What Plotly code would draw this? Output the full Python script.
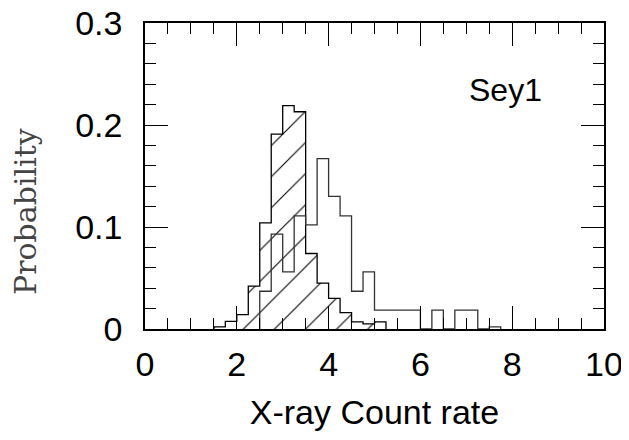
import plotly.graph_objects as go

# Bin edges (width 0.25) and probabilities
bin_width = 0.25

hatched_left = [1.5, 1.75, 2.0, 2.25, 2.5, 2.75, 3.0, 3.25, 3.5, 3.75, 4.0, 4.25, 4.5, 4.75, 5.0]
hatched_vals = [0.002, 0.0075, 0.014, 0.042, 0.104, 0.191, 0.219, 0.213, 0.074, 0.045, 0.030, 0.016, 0.007, 0.005, 0.007]

open_left = [2.5, 2.75, 3.0, 3.25, 3.5, 3.75, 4.0, 4.25, 4.5, 4.75, 5.0, 5.25, 5.5, 5.75,
             6.0, 6.25, 6.5, 6.75, 7.0, 7.25, 7.5]
open_vals = [0.037, 0.093, 0.056, 0.111, 0.102, 0.167, 0.130, 0.111, 0.037, 0.056, 0.0186, 0.0186, 0.0186, 0.0186,
             0.0, 0.0186, 0.0, 0.0186, 0.0186, 0.0, 0.002]

x_ticks = [0, 2, 4, 6, 8, 10]
y_ticks = [0, 0.1, 0.2, 0.3]
y_tick_text = ["0", "0.1", "0.2", "0.3"]


def step_xy(lefts, vals, w):
    xs = [lefts[0]]
    ys = [0]
    for l, v in zip(lefts, vals):
        xs.append(l)
        ys.append(v)
    xs.append(lefts[-1] + w)
    ys.append(0)
    return xs, ys


fig = go.Figure()

# hatched fill
fig.add_trace(go.Bar(
    x=[l + bin_width / 2 for l in hatched_left], y=hatched_vals, width=bin_width,
    marker=dict(color="rgba(0,0,0,0)", line=dict(width=0),
                pattern=dict(shape="/", fgcolor="black", bgcolor="rgba(0,0,0,0)", fgopacity=1,
                             size=22, solidity=0.05, fillmode="overlay")),
    showlegend=False, hoverinfo="skip"))

hx, hy = step_xy(hatched_left, hatched_vals, bin_width)
fig.add_trace(go.Scatter(x=hx, y=hy, mode="lines", line=dict(shape="hv", color="black", width=1.3),
                         showlegend=False))

ox, oy = step_xy(open_left, open_vals, bin_width)
fig.add_trace(go.Scatter(x=ox, y=oy, mode="lines", line=dict(shape="hv", color="#333333", width=1.3),
                         showlegend=False))

sans = "Liberation Sans, Arial, sans-serif"
tick_font = dict(family=sans, size=34, color="black")

# the page body adds an 8px offset, so the figure is sized to fit the window
W, H = 621, 432
L, T, R, B = 137, 15, 25, 111
pw, ph = W - L - R, H - T - B

fig.update_layout(
    width=W, height=H,
    margin=dict(l=L, r=R, t=T, b=B),
    paper_bgcolor="white", plot_bgcolor="white",
    bargap=0,
    xaxis=dict(range=[0, 10], tickvals=x_ticks, ticks="inside", ticklen=23, tickwidth=1.2,
               tickcolor="black", showline=True, linecolor="black", linewidth=2, mirror="allticks",
               showgrid=False, zeroline=False, tickfont=tick_font, automargin=False,
               ticklabelstandoff=4, ticklabeloverflow="allow",
               minor=dict(dtick=0.5, ticks="inside", ticklen=11, tickwidth=1.2, tickcolor="black", showgrid=False),
               title=dict(text="X-ray Count rate", font=dict(family=sans, size=34, color="black"), standoff=18)),
    yaxis=dict(range=[0, 0.3], tickvals=y_ticks, ticktext=y_tick_text, ticks="inside", ticklen=23,
               tickwidth=1.2, tickcolor="black", showline=True, linecolor="black", linewidth=1.5,
               mirror="allticks", showgrid=False, zeroline=False, tickfont=tick_font, automargin=False,
               ticklabelstandoff=14, ticklabeloverflow="allow",
               minor=dict(dtick=0.02, ticks="inside", ticklen=11, tickwidth=1.2, tickcolor="black", showgrid=False)),
    annotations=[
        dict(text="Sey1", x=7.86, y=0.234, xref="x", yref="y", showarrow=False,
             font=dict(family=sans, size=32, color="black")),
        dict(text="Probability", x=(17 - L) / pw, y=(321 - 204) / ph,
             xref="paper", yref="paper", showarrow=False, textangle=-90,
             xanchor="center", yanchor="middle",
             font=dict(family="DejaVu Serif, serif", size=30, color="#444444")),
    ],
)

fig.write_html("out.html")
